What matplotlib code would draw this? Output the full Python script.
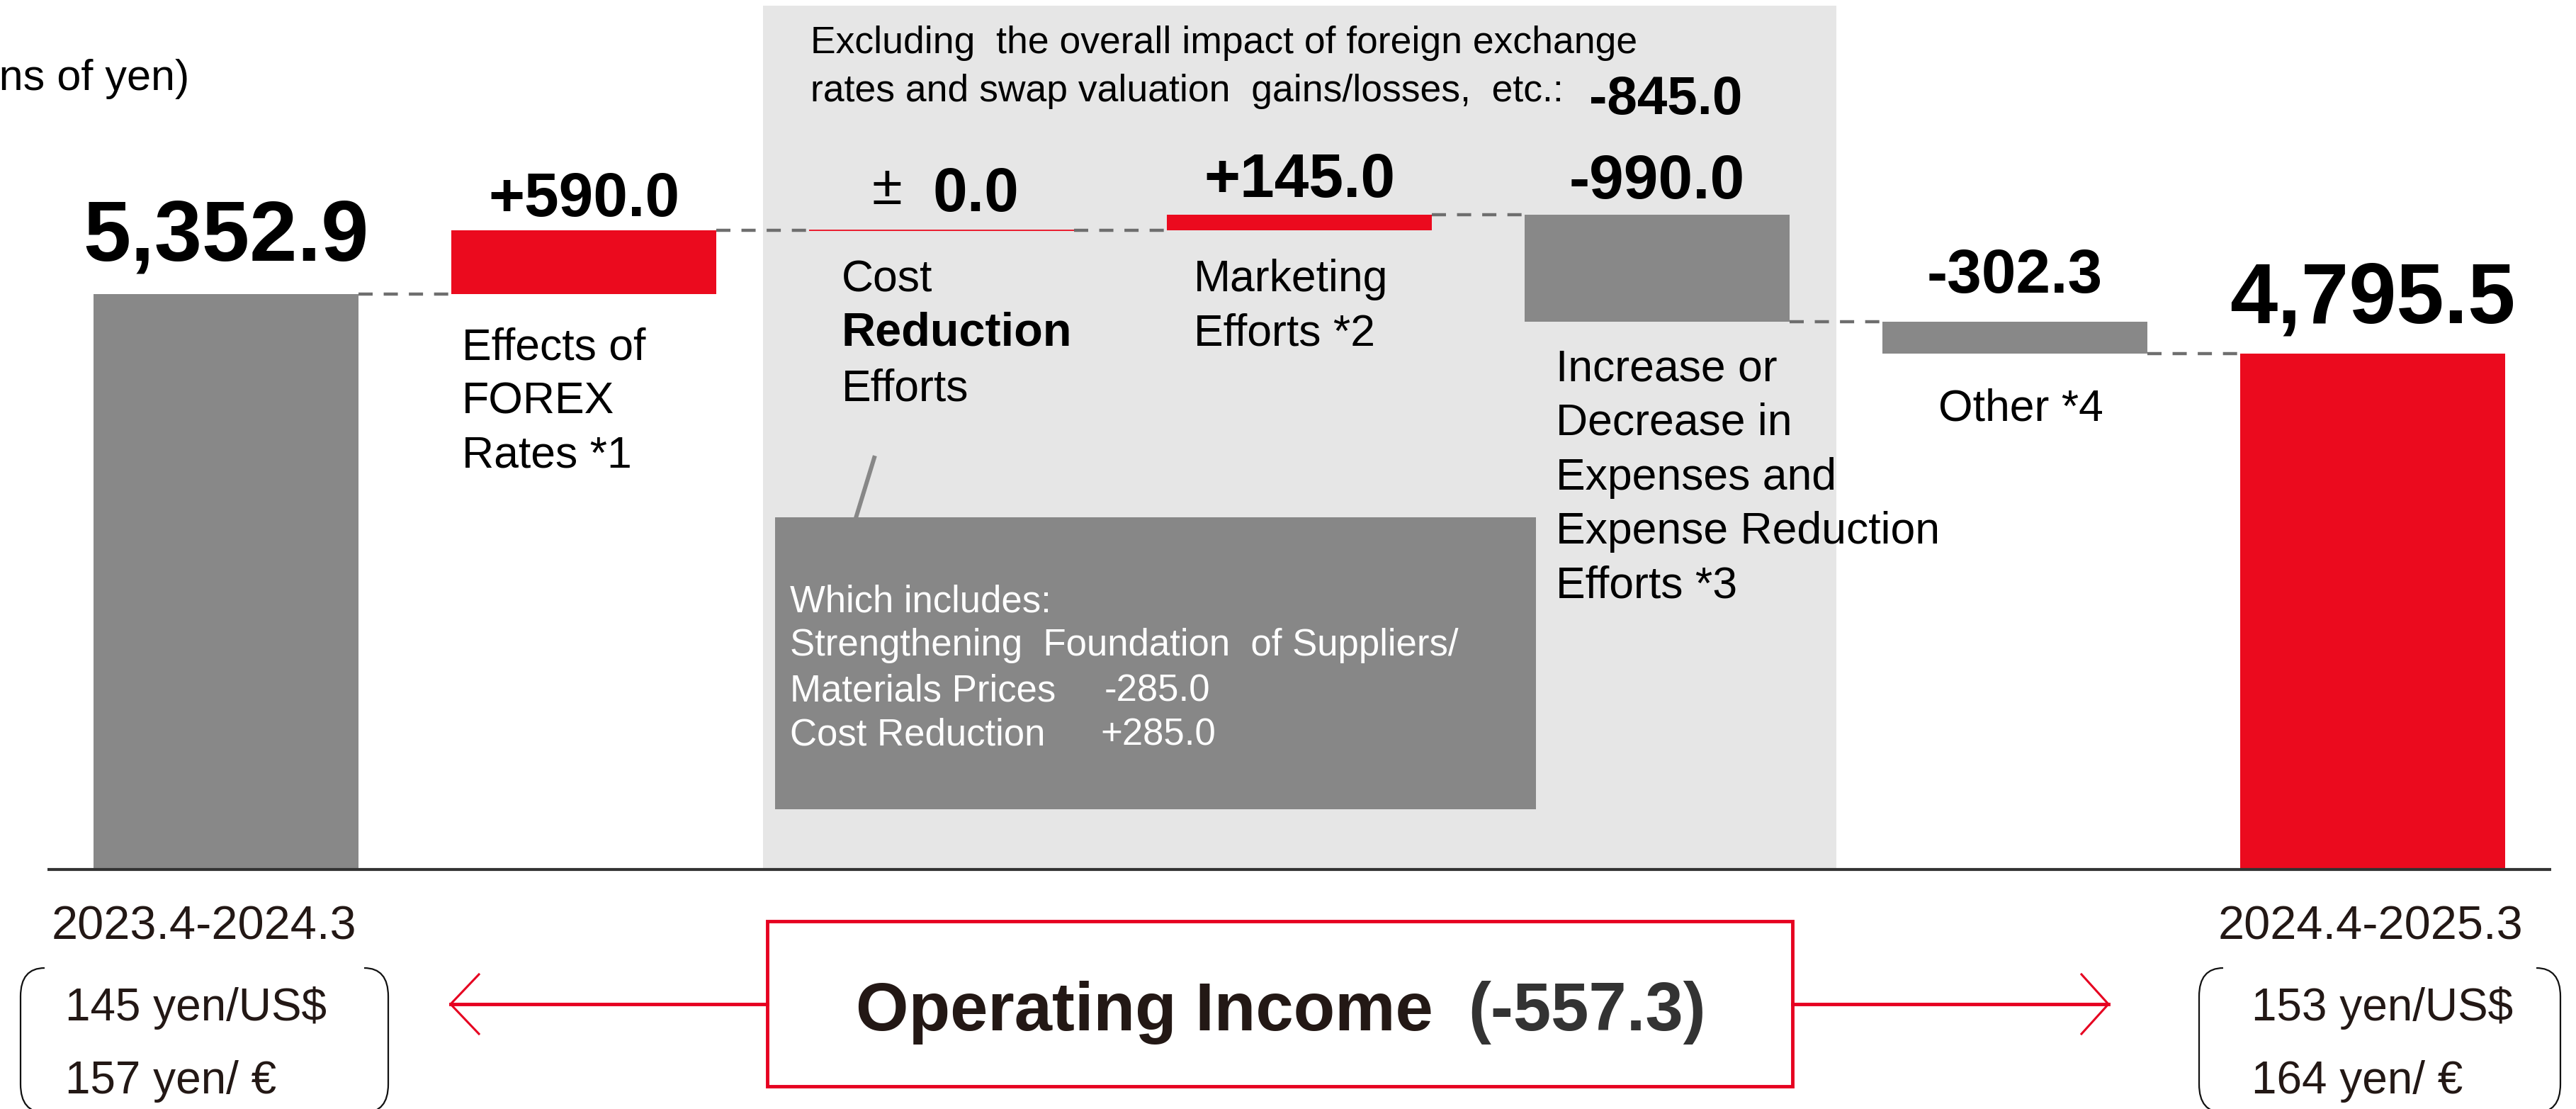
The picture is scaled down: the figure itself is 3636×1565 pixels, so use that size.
import matplotlib
matplotlib.use("Agg")
import matplotlib.pyplot as plt
from matplotlib.lines import Line2D
from matplotlib.patches import Rectangle, PathPatch
from matplotlib.path import Path

# ============================================================
# 1. DATA
# ============================================================
start_value = 5352.9
end_value = 4795.5
steps = [590.0, 0.0, 145.0, -990.0, -302.3]

start_label = "5,352.9"
end_label = "4,795.5"
step_labels = ["+590.0", "0.0", "+145.0", "-990.0", "-302.3"]

cat_lines = [
    ["Effects of", "FOREX", "Rates *1"],
    ["Cost", "Reduction", "Efforts"],
    ["Marketing", "Efforts *2"],
    ["Increase or", "Decrease in", "Expenses and", "Expense Reduction", "Efforts *3"],
    ["Other *4"],
]

unit_text = "(Billions of yen)"
note_lines = ["Excluding  the overall impact of foreign exchange",
              "rates and swap valuation  gains/losses,  etc.:"]
note_value = "-845.0"
box_lines = ["Which includes:", "Strengthening  Foundation  of Suppliers/",
             "Materials Prices", "Cost Reduction"]
box_values = ["-285.0", "+285.0"]

periods = ["2023.4-2024.3", "2024.4-2025.3"]
rates_prev = ["145 yen/US$", "157 yen/ \u20ac"]
rates_curr = ["153 yen/US$", "164 yen/ \u20ac"]
total_title = "Operating Income"
total_change = "(-557.3)"

# ============================================================
# 2. STYLE
# ============================================================
W, H = 3637, 1565
RED = "#eb0a1e"
RED2 = "#e60020"
GRAY = "#888888"
SHADE = "#e6e6e6"
INK = "#231815"

plt.rcParams["font.family"] = ["Liberation Sans", "DejaVu Sans"]

fig = plt.figure(figsize=(W / 100, H / 100), dpi=100)
ax = fig.add_axes([0, 0, 1, 1])
ax.set_xlim(-0.6317, 6.5703)
ax.set_ylim(-2228, 8088)
ax.axis("off")


def P(x, y):
    # pixel (from top-left) -> figure fraction
    return x / W, 1 - y / H


def ftext(x, y, s, **kw):
    kw.setdefault("va", "baseline")
    kw.setdefault("ha", "left")
    fig.text(*P(x, y), s, **kw)


def fline(xs, ys, **kw):
    fx = [x / W for x in xs]
    fy = [1 - y / H for y in ys]
    fig.add_artist(Line2D(fx, fy, transform=fig.transFigure, **kw))


# ============================================================
# 3. WATERFALL
# ============================================================
bw = 0.74
# shaded area behind the middle three steps
ax.add_patch(Rectangle((1.5, 0), 3.0, 8036, facecolor=SHADE, edgecolor="none", zorder=0))

totals = [start_value]
for s in steps:
    totals.append(totals[-1] + s)

ax.bar(0, start_value, width=bw, color=GRAY, zorder=2)
for i, s in enumerate(steps):
    x = i + 1
    prev = totals[i]
    if s == 0:
        ax.hlines(prev, x - bw / 2, x + bw / 2, color=RED, lw=1.3, zorder=2)
        continue
    col = RED if s > 0 else GRAY
    ax.bar(x, abs(s), bottom=min(prev, prev + s), width=bw, color=col, zorder=2)
ax.bar(6, end_value, width=bw, color=RED, zorder=2)

# dashed connectors
levels = totals[:-1] + [end_value]
for i in range(6):
    ax.hlines(levels[i], i + bw / 2, i + 1 - bw / 2, color="#6e6e6e", lw=3.2,
              linestyles=(0, (4.5, 3.5)), zorder=2)

# baseline
ax.hlines(0, -0.5, 6.5, color="#333333", lw=3.0, zorder=3)

# value labels
ax.annotate(start_label, xy=(0, start_value), xytext=(0, 34), textcoords="offset points",
            ha="center", va="baseline", fontsize=87, fontweight="bold")
ax.annotate(end_label, xy=(6, end_value), xytext=(0, 32), textcoords="offset points",
            ha="center", va="baseline", fontsize=87, fontweight="bold")
gaps = [15, 20, 18, 17, 29]
for i, s in enumerate(steps):
    x = i + 1
    top = max(totals[i], totals[i + 1])
    if s == 0:
        ax.annotate("\u00b1", xy=(x, top), xytext=(-40, 27), textcoords="offset points",
                    ha="right", va="baseline", fontsize=56)
        ax.annotate(step_labels[i], xy=(x, top), xytext=(-9, gaps[i]), textcoords="offset points",
                    ha="left", va="baseline", fontsize=63, fontweight="bold")
    else:
        ax.annotate(step_labels[i], xy=(x, top), xytext=(0, gaps[i]), textcoords="offset points",
                    ha="center", va="baseline", fontsize=63, fontweight="bold")

# ============================================================
# 4. TEXTS
# ============================================================
ftext(267, 127, unit_text, ha="right", fontsize=44)

for ln, yb in zip(cat_lines[0], [507, 583, 659]):
    ftext(652, yb, ln, fontsize=45)
for ln, yb in zip(cat_lines[1], [411, 488, 565]):
    if ln == "Reduction":
        ftext(1188, yb, ln, fontsize=48, fontweight="bold")
    else:
        ftext(1188, yb, ln, fontsize=45)
for ln, yb in zip(cat_lines[2], [411, 488]):
    ftext(1685, yb, ln, fontsize=45)
for ln, yb in zip(cat_lines[3], [538, 614, 691, 767, 844]):
    ftext(2196, yb, ln, fontsize=45)
ftext(2852, 594, cat_lines[4][0], ha="center", fontsize=45)

ftext(1144, 75, note_lines[0], fontsize=38.5)
ftext(1144, 143, note_lines[1], fontsize=38.5)
ftext(2351, 161, note_value, ha="center", fontsize=55, fontweight="bold")

# grey call-out box
fig.add_artist(Rectangle(P(1094, 1142), (2168 - 1094) / W, (1142 - 730) / H,
                         transform=fig.transFigure, facecolor="#878787", edgecolor="none"))
fline([1234, 1208], [646, 731], color="#878787", lw=4.3)
for ln, yb in zip(box_lines, [863, 925, 990, 1052]):
    ftext(1115, yb, ln, fontsize=38, color="white")
ftext(1559, 990, box_values[0], fontsize=38, color="white")
ftext(1553, 1052, box_values[1], fontsize=38, color="white")

# ============================================================
# 5. BOTTOM PANEL
# ============================================================
ftext(288, 1325, periods[0], ha="center", fontsize=48, color=INK)
ftext(3346, 1325, periods[1], ha="center", fontsize=48, color=INK)


def bracket(x0, x1, y0, y1, r=34):
    def side(xa, xc):
        verts = [P(xc, y0), P(xa, y0), P(xa, y0 + 40), P(xa, y1 - 40), P(xa, y1), P(xc, y1)]
        codes = [Path.MOVETO, Path.CURVE3, Path.CURVE3, Path.LINETO, Path.CURVE3, Path.CURVE3]
        fig.add_artist(PathPatch(Path(verts, codes), transform=fig.transFigure,
                                 fill=False, edgecolor="#111111", lw=1.6))
    side(x0, x0 + r)
    side(x1, x1 - r)


bracket(29, 548, 1366, 1570)
bracket(3104, 3614, 1366, 1570)

ftext(92, 1440, rates_prev[0], fontsize=46, color=INK)
ftext(92, 1543, rates_prev[1], fontsize=46, color=INK)
ftext(3178, 1440, rates_curr[0], fontsize=46, color=INK)
ftext(3178, 1543, rates_curr[1], fontsize=46, color=INK)

# central box
fig.add_artist(Rectangle(P(1083, 1533), (2530 - 1083) / W, (1533 - 1300) / H,
                         transform=fig.transFigure, facecolor="white", edgecolor=RED2, lw=3.5))
ftext(1208, 1454, total_title, fontsize=69, fontweight="bold", color=INK)
ftext(2072, 1454, total_change, fontsize=69, fontweight="bold", color="#333333")

# arrows
fline([1083, 636], [1417, 1417], color=RED2, lw=3.5)
fline([676, 636, 676], [1375, 1417, 1459], color=RED2, lw=2.2)
fline([2530, 2976], [1417, 1417], color=RED2, lw=3.5)
fline([2938, 2976, 2938], [1375, 1417, 1459], color=RED2, lw=2.2)

fig.savefig("out.png", dpi=100)
